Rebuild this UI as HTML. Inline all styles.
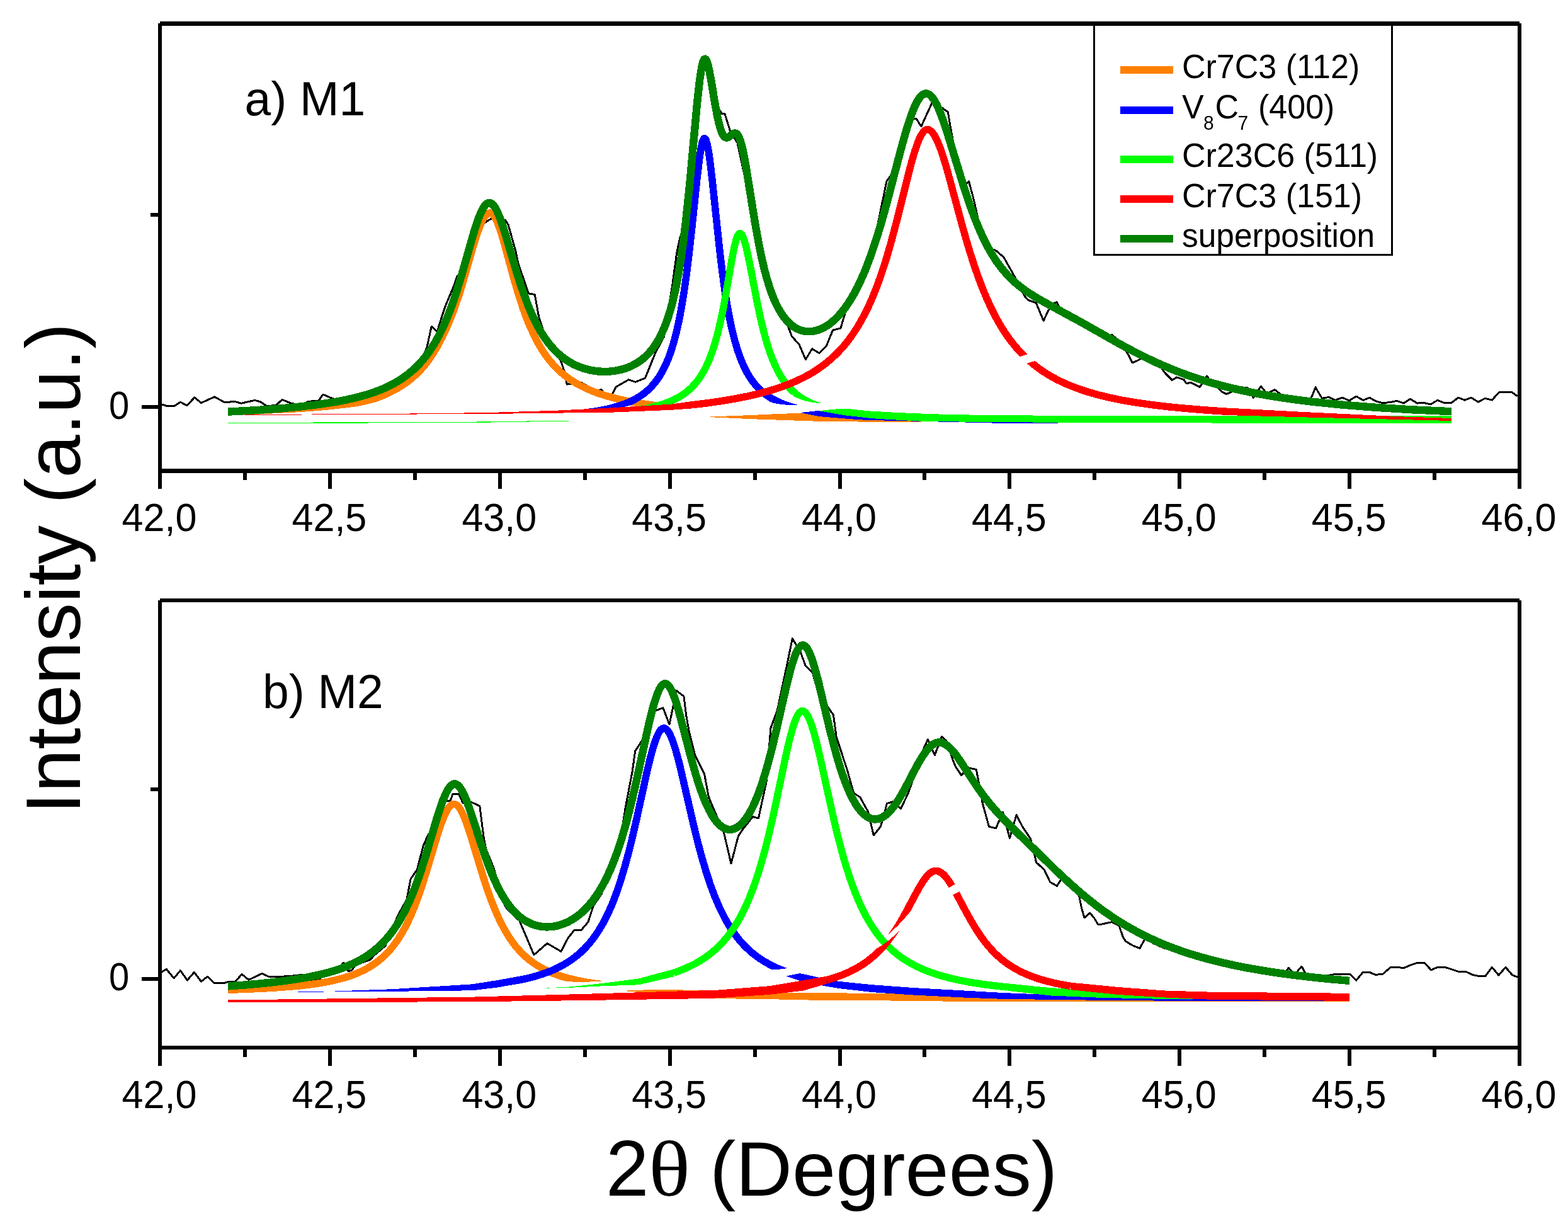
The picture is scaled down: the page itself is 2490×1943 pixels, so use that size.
<!DOCTYPE html>
<html lang="en"><head><meta charset="utf-8"><title>XRD peak deconvolution M1 / M2</title>
<style>html,body{margin:0;padding:0;background:#fff;overflow:hidden}svg{display:block}text{font-family:"Liberation Sans",sans-serif;fill:#000}.sym{font-family:"Liberation Serif",serif}</style></head><body>
<svg xmlns="http://www.w3.org/2000/svg" width="2490" height="1943" viewBox="0 0 2490 1943">
<rect width="2490" height="1943" fill="#fff"/>
<g shape-rendering="crispEdges">
<path d="M256.7,641.9l8.7,2.7l11.4,0l9.6,-6.4l10.6,5.5l11.9,-12.8l10.5,8.7l21.1,-9.6l9.5,5l7.3,4l14.7,-1.8l11,3.1l21.9,-5l9.2,2.8l9.2,6.4l14.6,-0.9l10.1,-9.2l15.6,6.4l14.6,1l12.8,-4.6l14.7,-0.9l7.3,-10.1l12.8,5.5l9.2,2.7l22,-6.4l10.9,0.3l11,0.6l11,-5.2l11,-2.5l11,-3.3l11,-7.6l11,-6.5l11,-9.6l11,-8l10.9,-9.7l11,-24.5l7.4,-33.9l9.1,8.3l7.3,-23.8l5.5,-16.5l14.7,-34.8l3.8,-12.1l11.3,-14.7l11.2,-39l11.2,-37.9l11.2,5.5l9.2,-5.8l22.9,2.2l4.5,7.3l11.9,42.1l3.7,18.3l16.5,48.6l10.1,1.8l6.4,35.7l11.6,34.1l11.6,15.4l11.6,20.1l6.4,18.3l3.3,18.9l22,-3.1l24.7,12.8l8.2,-1.1l6.4,8.8l9.2,1.8l7.3,-15l20.2,-11.6l11,3.7l15.5,-6.4l16,-39.9l13.7,-25.7l13.7,-84.2l6.4,-47.6l4.6,-22l11.2,-38.6l11.2,-120.5l11.2,-106.1l11.2,-11.6l11.2,56.8l11.2,20.3l4.8,0l8.9,28.8l6.9,10.3l4.1,6.9l10.3,47.4l10.4,34.7l10.3,65l10.4,46.6l10.4,38.1l10.3,27.4l10.4,13.8l10.3,24.2l3.5,9.6l11.7,13.1l10.3,24l10.3,-17.1l11.2,6.8l11.4,-11l10.3,-25.4l12.4,-3l11.4,-38.5l11.4,-17.8l11.4,-23.8l11.4,-29.3l11.4,-46.1l16.1,-77.9l11.4,-16l20.6,-81.3l14.9,-2.3l8,12.6l18.3,-40l24.1,17.1l3.4,20.6l18.3,100.8l11.5,-11.5l8,29.8l11.5,51.7l11.6,24.7l11.5,3.5l12.9,11l17.4,31.1l15.5,30.2l5.5,6.5l12.8,4.5l11.9,28.4l7.4,-15.5l7.3,-12l6.4,-1.8l5.5,10.1l11.1,8.8l11.1,6.6l11.2,5.6l11.1,8.7l11.1,5.9l11.1,4.1l11.1,3.3l4.6,-1.3l12.8,11.4l12.9,20.2l6.4,12.8l8.2,-3.7l11,-5.3l11,3.8l11,5.9l11,15.8l11,10.9l7.3,-4.5l11,3.6l4.5,6.4l6.5,-1.8l14.6,7.3l11,-17.4l5.5,6.4l18.3,18.4l7.3,3.6l6.4,-2.2l12.8,-9.2l14.7,1.9l9.1,15.5l11.9,-18.3l8.3,10.1l4.6,0l9.1,-4.6l9.2,7.3l10.1,2.2l9.6,5l9.6,2.8l9.6,-0.2l9.6,-3.4l7,-17.4l10.4,17.4l11,-1.8l9.6,4.8l11.7,-4.1l11,4.8l11,-6.9l10.9,6.2l10.3,-4.1l11,6.2l9.6,2.1l11,-0.7l11.7,-2.4l11,3.7l10.3,-6.8l11,6.8l11,-0.6l10.3,2.4l11,-6.6l10.3,4.2l11.7,0l10.9,-8.3l10.3,3.9l10.3,-3.9l11,6.9l11,-5.8l11,2.8l11,-12.1l10.3,-0.7l11,0.7l8.2,6.1" fill="none" stroke="#000" stroke-width="3" stroke-linejoin="round"/>
<path d="M1120,661.8l73,-2.8l47,-2.2l31,-0.9l40,0.1l63,1l89,3l0,10.1l-152,-0.9l-118,-4l-73,-3.4Z" fill="#ff8000"/>
<path d="M385.2,658.6l36.9,-4.7l52.8,-7.3l23.8,-3.7l20.7,-3.7l1.2,11.4l-21.1,1.9l-24.2,1.7l-54,2.9l-36.1,1.5Z" fill="#ff8000"/>
<path d="M520,644.9l31,-3.4l9,-1.2l11.3,-1.9l11.2,-2.4l10.3,-2.7l4.7,-1.3l9.4,-3.7l9.4,-4.2l11.9,-6.1l8.2,-4.7l8.2,-5.5l8.2,-6.3l7.2,-6.3l7.2,-7.2l6.2,-6.9l5.1,-6.5l4.1,-5.6l5.1,-7.7l4.1,-6.8l4.1,-7.2l6.4,-12.1l8.5,-18.3l5.3,-12.9l4.3,-11.1l9.6,-27.6l6,-20.1l16,-55.9l5,-15.9l4,-11.4l3,-7.4l2,-4.2l2,-3.7l2,-3.1l2,-2.5l2,-1.7l2,-1.1l2,-0.3l1,0.1l2,0.9l2,1.8l2,2.7l2,3.4l2,4.2l4,10.2l3,9.1l4,13.4l15,55.1l8,27.5l8,24.5l4,11l5,12.7l8,17.7l4,7.9l5,8.9l5,8.1l5,7.3l5,6.6l5,6l6,6.5l7,6.7l7,5.8l8,6l8,5.1l8,4.6l9,4.4l10,4.4l10,3.7l11,3.6l12,3.4l12,2.9l14,2.9l14,2.5l15,2.3l17,2.3" fill="none" stroke="#ff8000" stroke-width="11.5" stroke-linejoin="round" stroke-linecap="butt"/>
<path d="M1271,655l29.4,-3.2l49.6,0.2l24,1l56,3l66,3l79,2l105,2l0,9l-105,-0.5l-201,-4.7l-24,-1.6l-49.6,-4.2l-29.4,-6Z" fill="#0000ff"/>
<path d="M920.3,650.6l23.8,-3.3l10.8,-1.9l9.8,-2.1l8.8,-2.2l8.7,-2.6l7.8,-2.7l7.7,-3.2l4.6,10.6l-7.6,2l-8.6,1.9l-9.5,1.5l-9.4,1l-10.3,0.7l-11.2,0.5l-12.2,0l-13.2,-0.2Z" fill="#0000ff"/>
<path d="M1230.8,629l7.6,3.9l8.6,3.6l9.7,3.3l10.7,3l-11.7,0.2l-10.9,-0.6l-10.2,-1.3l-9.4,-2Z" fill="#0000ff"/>
<path d="M1000,637.9l7,-3.4l6,-3.4l6,-3.9l5,-3.7l5,-4.3l5,-4.9l5,-5.6l4,-5.2l4,-5.8l4,-6.7l4,-7.6l3,-6.4l3,-7.1l3,-8l3,-8.9l3,-9.9l4,-15.2l4,-17.7l4,-20.8l4,-24.2l4,-28.1l4,-32.2l4,-35.9l9,-86.4l4,-32.9l2,-12.9l2,-9.6l1,-3.4l1,-2.4l1,-1.4l1,-0.3l1,0.7l1,1.7l2,6.5l2,10.2l2,13.3l4,33.3l12,113.5l4,33l4,29l3,19.1l4,22.3l4,19.1l4,16.3l5,17.2l3,8.8l3,7.9l3,7.1l4,8.4l3,5.5l4,6.6l4,5.8l4,5.2l4,4.5l4,4l5,4.5l5,3.9l5,3.4l6,3.6" fill="none" stroke="#0000ff" stroke-width="11.5" stroke-linejoin="round" stroke-linecap="butt"/>
<path d="M362,671l388,-1.4l165,-2.1l0,0.8l-165,2.7l-388,1.2Z" fill="#00ff00"/>
<path d="M1300.4,652.2l21.6,-2.4l20.6,-1.3l34.4,3.7l46,2.7l40,1.6l33,1.2l48,0.9l96,0.9l665,0.2l0,12l-355,-0.1l-310,-1.1l-96,-0.7l-81,-1.1l-67,-3.7l-19,-1.7l-34.4,-3.8l-42.2,-7.3Z" fill="#00ff00"/>
<path d="M1011.1,645.5l14.7,-2.8l12.8,-2.9l2.8,11.1l-14.3,-2.1l-16,-3.3Z" fill="#00ff00"/>
<path d="M1265.7,619.3l3.8,3.1l4.7,3.4l4.7,3l4.8,2.6l10.5,4.9l11,4l-6.8,-0.5l-6.5,-0.7l-6.6,-1.2l-5.7,-1.3l-5.7,-1.7l-4.7,-1.7l-6,-2.6l-4.9,-2.5Z" fill="#00ff00"/>
<path d="M1040,645.3l14,-4.2l7,-2.5l6,-2.6l6,-2.8l6,-3.4l5,-3.1l5,-3.6l5,-4.1l4,-3.7l5,-5.3l4,-4.8l4,-5.4l3,-4.6l4,-6.8l3,-5.8l5,-11l5,-13.1l5,-15.7l4,-14.7l5,-21.4l4,-19.7l4,-21.8l9,-52.2l4,-20.5l3,-11.9l2,-5.6l2,-3.3l1,-0.8l1,-0.2l1,0.3l1,0.8l1,1.2l2,3.7l2,5.3l3,10.6l5,22.7l12,62.7l6,28.4l3,12.7l4,15.5l3,10.4l4,12.5l4,10.9l5,11.9l4,8.2l5,8.9l5,7.5l5,6.6l6,6.6l6,5.6" fill="none" stroke="#00ff00" stroke-width="11.5" stroke-linejoin="round" stroke-linecap="butt"/>
<path d="M388,658.2l312,-2l91.6,-1.7l91.4,-2.8l91.7,-4.6l91.3,-5.5l34,-4.8l0,11.6l-34,2.4l-91.3,3.7l-183.1,2.3l-403.6,2.2Z" fill="#ff0000"/>
<path d="M1950,647.6l126.5,6.7l146.5,7l82,2.7l0,4l-82,-2l-146.5,-3.5l-126.5,-3.4Z" fill="#ff0000"/>
<path d="M1100,642.6l24,-2.9l22,-3.1l21,-3.6l19,-3.7l18,-4.1l17,-4.6l15,-4.7l15,-5.4l14,-5.9l13,-6.3l12,-6.7l11,-7.2l11,-8.1l10,-8.5l9,-8.7l9,-9.9l7,-8.7l7,-9.6l7,-10.6l6,-10.2l6,-11.1l6,-12.2l6,-13.4l6,-14.7l6,-16.2l6,-17.7l5,-15.9l6,-20.5l10,-37.5l20,-80.1l5,-18.4l4,-13.3l5,-14.2l3,-6.9l2,-3.8l3,-4.5l2,-2.1l2,-1.4l1,-0.4l2,-0.3l2,0.4l3,1.8l3,3l3,4.4l2,3.5l3,6.3l3,7.3l3,8.2l5,15.5l5,17l23,85.1l6,21.2l6,20.1l7,21.9l6,17.3l6,16l7,17.1l7,15.5l7,14l7,12.7l8,12.9l8,11.5l9,11.5l9,10.1l9,9l11,9.5l12,9.1l13,8.3l13,7.2l14,6.6l16,6.4l16,5.5l18,5.2l19,4.6l21,4.3l22,3.7l24,3.4l26,3.1l29,2.8l32,2.6l34,2.3" fill="none" stroke="#ff0000" stroke-width="11.5" stroke-linejoin="round" stroke-linecap="butt"/>
<path d="M1618.5,566.5l16,-5l12,10.5l-16,5Z" fill="#fff"/>
<path d="M362,653.6l32,-1.7l29,-1.8l26,-2l24,-2.2l22,-2.5l20,-2.7l19,-3l17,-3.3l16,-3.7l14,-3.8l13,-4.3l13,-4.9l11,-5l11,-5.9l10,-6.2l10,-7.4l8,-6.8l7,-6.8l7,-7.7l7,-8.8l7,-10l6,-9.6l6,-10.8l6,-12.2l6,-13.5l5,-12.5l5,-13.6l5,-14.7l9,-29.1l19,-66.4l4,-12.8l4,-11.5l4,-9.7l4,-7.6l2,-2.8l2,-2.1l2,-1.5l2,-0.7l2,0l2,0.7l2,1.5l3,3.4l2,3.1l2,3.8l5,11.6l4,11.3l4,12.4l17,57.5l8,25.4l9,25.3l4,10.1l5,11.7l8,16.4l4,7.2l5,8.3l4,6l5,6.8l5,6.1l5,5.4l7,6.7l7,5.7l8,5.5l8,4.5l8,3.6l9,3.2l9,2.3l10,1.7l10,0.7l9,-0.1l10,-1l9,-1.7l9,-2.6l9,-3.7l8,-4.3l7,-4.7l5,-4l4,-3.7l5,-5.3l4,-4.9l4,-5.5l3,-4.6l4,-6.9l3,-5.9l6,-13.6l3,-7.9l3,-8.9l3,-9.9l3,-11.2l5,-21.6l4,-20.7l4,-24.2l4,-28.2l4,-32.6l6,-57.5l12,-130.6l4,-36.1l3,-19.7l2,-8.7l1,-3l1,-1.9l1,-1l1,-0.1l1,0.8l1,1.7l1,2.5l1,3.2l2,8.3l3,15.9l6,36.1l4,21.8l2,9.1l2,7.8l3,9l1,2.2l2,3.5l2,2.1l2,0.9l2,0l2,-0.9l6,-4.6l2,-1.2l2,-0.5l2,0.5l2,1.7l2,3.2l2,4.7l2,6.3l3,12.3l4,20.7l15,93.2l7,38.5l4,19l4,16.9l4,14.8l5,15.9l4,10.9l5,11.7l5,9.7l6,9.6l5,6.5l6,6.2l6,4.8l3,1.9l4,2.1l5,2l6,1.4l5,0.5l6,-0.2l6,-1.1l6,-1.8l6,-2.6l6,-3.4l6,-4.2l6,-5.1l6,-5.9l5,-5.6l6,-7.7l5,-7.2l5,-7.9l5,-8.7l5,-9.5l4,-8.3l5,-11.2l4,-9.6l8,-21.1l9,-26.8l7,-22.9l8,-28.3l22,-83.8l6,-22l6,-20.5l6,-18l3,-7.9l3,-7l3,-6l3,-5l3,-3.9l3,-2.7l3,-1.6l3,-0.4l2,0.4l3,1.5l3,2.7l3,3.7l2,3.1l3,5.4l3,6.3l3,7l5,13.3l6,17.9l25,81.8l6,18.6l6,17.5l7,18.9l6,14.8l7,15.7l7,13.9l7,12.4l8,12.4l8,10.7l9,10.4l9,9l10,8.5l11,8.1l13,8.4l18,10.3l54,29.3l65,36.7l22,11.7l20,10l14,6.6l13,5.7l13,5.4l13,5.1l13,4.7l14,4.7l14,4.4l15,4.3l17,4.5l17,4l18,3.9l18,3.5l19,3.3l20,3.1l21,2.9l22,2.7l47,4.9l52,4.1l58,3.6l65,3" fill="none" stroke="#008000" stroke-width="12.4" stroke-linejoin="round" stroke-linecap="butt"/>
<path d="M256.9,1542.7l7.5,-4.2l11.7,14.5l10.3,-12.4l11,15.4l11,-12.6l11,14.8l10,-8l10.6,10.3l15.8,0l6.8,-2l11,0l10.3,-12.1l11,9l21.3,-10l10.3,4.8l21.3,0l12.4,-0.7l19.8,-2.2l9.2,11.3l16.5,-3.1l9.1,-8.1l9.2,-2l9.2,0l11.9,-17.4l8.2,13.8l5.5,-1.9l5.5,-7.3l12.8,-5.5l11,-3.7l5.5,-6.4l18.3,-15.5l17.4,-42.2l3.7,-8.2l12.8,-22.9l6.4,-33l10.1,-14.6l10,-38.5l7.4,-16.5l11.8,-17.4l11.8,-37.5l11.8,0.6l3.7,-10.6l10,0l6.4,14.2l12.9,-1.8l13.7,6.4l6.4,50.4l3.7,18.3l11.9,29.3l17.4,58.6l3.6,6.4l20.2,19.3l22.9,54l21,-18.3l22,12.8l11,-21.1l10.1,-12.8l11,0l11,-12.8l8.2,-25.7l12.8,-18.3l9.6,-30.4l9.6,-23.3l9.7,-24.7l9.6,-60.8l10.7,-56l4.5,-32.1l10.3,-16l21.8,-48.1l12.1,-4.6l10.1,26.4l6.4,-31l4.6,-22.8l11.9,9.1l4.1,32.1l4.1,22.9l9.7,38.9l14.8,29.7l6.9,36.7l24,56.1l11.5,49.2l11.4,-43.5l5.8,-9.2l17.1,-21.7l9.2,2.3l12.6,-58.4l6.8,-84.7l10.3,-27.5l16.1,-75.5l8,-39l12.6,20.6l8,21.8l11.4,11.4l9.2,33.2l16,22.9l8,11.5l4.6,34.3l17.2,52.7l10.3,36.6l10.3,6.9l12.6,22.9l8.8,37.4l11,-13.7l6.4,-22l3.7,-14.7l11,-3.3l11,11.6l11.9,-24.8l25.6,-73.2l5.5,-11.9l11,24.7l11,-29.3l7.3,6.4l11,32.1l3.7,9.1l9.1,13.8l11,-11.9l12.8,2.7l5.5,28.4l4.6,25.6l10.1,36.7l11,2.7l11,-25.6l10.9,41.2l10.7,-37l9.5,18.7l12.8,19.2l3.7,13.7l5.5,23.8l12.8,11.9l9.1,19.3l11,6.4l9.2,-15l9.1,9l9.2,12.4l5.5,-1.8l6.1,30.5l4.4,15.4l8.8,-7.7l6.6,7.7l6.6,11l6.5,-1.1l15.4,-3.3l11,5.5l6.6,18.7l4.4,6.6l11,6.6l11,4.4l9.9,-17.6l12.1,9.9l17.6,7.7l21.9,5.5l8.8,4.4l18.7,5.5l6.6,-3.8l6.6,6l11.1,0.7l11.1,3.1l11.1,2.6l11.1,3.5l11.1,2.1l11.2,1.7l11.1,1.1l11.1,1.2l11.1,3.3l13.2,1.5l15.4,1.1l5.5,-8.7l9.8,10.9l11,-13.1l7.7,14.2l20.9,3.3l24.4,-5.1l23.6,0l10.1,9.9l10.3,-12.6l11.6,0l9,3.7l11.6,-1.4l11.7,-10.3l11,0l11,0.7l11,-4.8l10.3,-3.2l11,0l10.3,11.4l10.3,-4.4l11.7,0l10.3,3.1l10.9,3.8l11.7,0l11,5.1l8.2,1.8l12.4,0l10.3,-13.8l10.6,12.7l11,-12.7l10.7,12.4l8.2,3.3" fill="none" stroke="#000" stroke-width="3" stroke-linejoin="round"/>
<path d="M996,1572.5l34,-1.3l40,-0.2l151.6,5.2l91.6,0l91.5,0.9l125.3,2.9l170,3l443,2l0,5.5l-443,-0.1l-170,-0.5l-125.3,-1.5l-91.5,-0.3l-91.6,-1.9l-91.6,-1.2l-60,-5l-40,-4l-34,-2.5Z" fill="#ff8000"/>
<path d="M901.5,1546.8l12.8,3.1l13.7,2.9l14.8,2.4l15.9,2.1l-17.3,1.1l-15.5,0.4l-14.7,-0.2l-12.7,-0.7Z" fill="#ff8000"/>
<path d="M362,1571.4l53,-2.1l23,-1.4l20,-1.5l18,-1.6l17,-2l15,-2.2l14,-2.5l13,-2.9l12,-3.2l11,-3.5l10,-3.9l10,-4.6l9,-5l8,-5.2l8,-6l7,-6.2l6,-6l6,-6.9l5,-6.4l6,-8.6l5,-8.1l5,-8.9l5,-9.9l5,-10.9l5,-12l5,-13.1l5,-14.3l9,-28l18,-60l4,-12.3l4,-11l5,-11.5l4,-6.9l3,-3.6l2,-1.6l2,-1l2,-0.3l2,0.4l2,1.1l2,1.7l2,2.3l2,2.9l2,3.5l4,8.6l4,10.3l5,14.8l21,69.1l6,18.4l6,16.9l7,17.9l7,15.6l7,13.7l8,13.5l4,5.9l5,6.8l4,4.9l5,5.6l5,5.1l5,4.6l5,4.1l5,3.8l5,3.4l6,3.7l6,3.3l7,3.4l7,3l7,2.7l8,2.7l8,2.3" fill="none" stroke="#ff8000" stroke-width="11.5" stroke-linejoin="round" stroke-linecap="butt"/>
<path d="M472.7,1573.8l41.3,-0.1l0,0.9l-41.3,0Z" fill="#0000ff"/>
<path d="M532,1573.5l92.7,-3.4l125.3,-7.8l40,-6.3l41.6,-7.5l0,11.8l-41.6,7.2l-40,4.8l-125.3,1.5l-92.7,0.7Z" fill="#0000ff"/>
<path d="M1248.1,1549.6l22,-4.6l29.9,6.5l31.5,6.3l54.9,5.5l63.6,4.7l143.3,8l73.2,3l73.3,2.5l73.2,1.5l330,3l0,3.5l-223,-0.5l-107,-0.6l-73.2,-0.7l-146.5,-1.8l-63.3,-2.4l-80,-4l-63.6,-4.3l-54.9,-6.2l-31.5,-5.5l-29.9,-6.5l-22,-7.4Z" fill="#0000ff"/>
<path d="M1230.5,1528.8l9.7,4.4l10.2,3.9l-12.5,1.5l-12.4,0.6Z" fill="#0000ff"/>
<path d="M831,1554.5l12,-2.8l11,-3.1l10,-3.3l10,-3.7l9,-4l8,-4l8,-4.5l8,-5.2l7,-5.2l7,-5.8l7,-6.7l6,-6.5l6,-7.2l6,-8.2l6,-9.1l5,-8.5l5,-9.4l4,-8.3l5,-11.2l4,-9.9l5,-13.4l4,-11.7l8,-26.2l6,-22.2l6,-24.1l7,-30.4l17,-77.3l5,-20.6l5,-18l4,-11.7l2,-4.8l2,-4l2,-3.3l2,-2.3l2,-1.5l2,-0.5l2,0.3l2,1.2l2,2.1l3,4.5l4,8.7l5,14.5l4,14.1l4,15.6l22,95.2l6,24.4l6,22.5l7,23.9l7,21.3l7,18.8l8,18.6l8,16l4,7.1l5,8.2l4,6l5,6.9l5,6.3l5,5.7l5,5.2l6,5.7l5,4.3l6,4.7l6,4.3l7,4.4l7,4l7,3.6" fill="none" stroke="#0000ff" stroke-width="11.5" stroke-linejoin="round" stroke-linecap="butt"/>
<path d="M868,1567.8l5,0l0,1l-5,0Z" fill="#00ff00"/>
<path d="M883,1567l18,-0.2l22,-2.2l36.8,-4l54.9,-7.3l55,-14.9l0,12.1l-55,12.8l-54.9,1.9l-58.8,2.8l-18,0Z" fill="#00ff00"/>
<path d="M1600,1561.2l66.5,6.8l73.3,4l73.2,3l117,3l0,8.5l-44,-0.3l-73,-0.9l-73.2,-1.8l-73.3,-3.1l-66.5,-7.6Z" fill="#00ff00"/>
<path d="M1069.7,1544.4l10,-3.6l9,-3.7l9,-4.1l8,-4.2l8,-4.8l8,-5.3l7,-5.3l7,-5.9l7,-6.6l6,-6.4l6,-7l5,-6.5l6,-8.7l5,-7.9l5,-8.8l5,-9.6l5,-10.6l4,-9.3l8,-20.7l8,-24.2l8,-27.8l6,-23.5l7,-29.9l6,-27.7l13,-62.2l5,-22.7l4,-16.7l4,-14.6l4,-12l2,-4.9l2,-4l2,-3.1l2,-2.2l2,-1.2l2,-0.3l2,0.7l2,1.5l2,2.4l3,5.2l4,9.5l5,15.7l4,15l5,20.9l19,86.6l9,38.3l9,34.2l5,17l5,15.7l5,14.4l5,13.1l5,12l6,13l5,9.7l6,10.6l6,9.5l6,8.5l8,10.1l8,8.7l8,7.6l9,7.4l10,7.2l10,6l11,5.8l11,4.9l13,4.9l13,4.2l14,3.8l16,3.6l17,3.2l18,2.8l20,2.6l21.3,2.3" fill="none" stroke="#00ff00" stroke-width="11.5" stroke-linejoin="round" stroke-linecap="butt"/>
<path d="M362,1587.5l388,-4.9l173.2,-4.6l216.8,-6.4l81.6,-6.4l54.9,-9.2l36.7,-6.4l0,11.9l-36.7,11l-54.9,6.4l-81.6,5.5l-33.7,0.9l-183.1,2.8l-173.2,2.2l-388,0.9Z" fill="#ff0000"/>
<path d="M1700,1559.6l76.4,7.4l73.3,5.5l70.3,2.1l223,2.2l0,12.1l-223,-2.2l-70.3,-3.2l-73.3,-4.5l-76.4,-7.8Z" fill="#ff0000"/>
<path d="M1391.9,1505.7l9,-5.4l9.2,-6.6l9.4,-7.9l8.8,-8.4l-6.6,10l-7.2,9.7l-7.2,8.8l-7.2,7.8Z" fill="#ff0000"/>
<path d="M1410.3,1483.6l5.9,-8.6l6.9,-10.9l5.9,-10.2l6.9,-12.7l10.2,5.4l-9.8,11.4l-9.7,10.5l-8.2,8l-8.1,7.1Z" fill="#ff0000"/>
<path d="M1313,1555.6l13,-3.9l12,-4.3l11,-4.7l11,-5.6l10,-6l9,-6.4l9,-7.4l8,-7.6" fill="none" stroke="#ff0000" stroke-width="11.5" stroke-linejoin="round" stroke-linecap="butt"/>
<path d="M1441,1443.9l13,-24.6l6,-10.8l6,-9.7l5,-6.8l3,-3.3l3,-2.7l3,-2l2,-0.9l3,-0.7l2,-0.1l2,0.3l3,1.1l4,2.5l4,3.7l4,4.8l5,7.2l8,13.5l17,31.9l8,14.4l8,13.3l7,10.6l7,9.5l8,9.7l7,7.5l8,7.5l5,4.2l6,4.6l11,7.3l12,6.6l13,5.8l14,5.1l16,4.6l17,3.9l19,3.5" fill="none" stroke="#ff0000" stroke-width="11.5" stroke-linejoin="round" stroke-linecap="butt"/>
<path d="M1504.5,1410.5l12.5,-7l8,11l-13.5,6.5Z" fill="#fff"/>
<path d="M362,1565.4l26,-1.8l23,-2l21,-2.2l20,-2.4l18,-2.6l17,-2.8l15,-3.1l14,-3.3l13,-3.6l13,-4.3l11,-4.3l11,-5l10,-5.3l9,-5.5l9,-6.5l8,-6.6l7,-6.6l6,-6.4l6,-7.1l6,-8l6,-8.9l5,-8.3l6,-11l5,-10.2l5,-11.1l5,-12.2l5,-13.2l5,-14.2l9,-28.1l19,-63.8l4,-12.4l4,-11.2l5,-11.9l4,-7.3l3,-3.9l2,-1.9l2,-1.3l2,-0.6l2,0l2,0.7l2,1.3l2,1.9l2,2.6l2,3l4,7.7l4,9.4l4,10.8l5,14.7l13,40.4l6,17.9l7,19.4l6,15l8,17.6l4,7.7l4,7.1l4,6.5l4,5.9l4,5.3l5,5.9l5,5.2l6,5.3l5,3.7l6,3.7l6,2.9l6,2.3l6,1.6l7,1.1l6,0.3l7,-0.2l7,-1l6,-1.4l7,-2.4l6,-2.5l7,-3.8l6,-3.8l5,-3.7l4,-3.3l5,-4.6l4,-4.1l8,-9.3l8,-11l8,-13l7,-13.2l7,-15.3l6,-14.9l6,-16.6l6,-18.7l6,-20.7l6,-22.8l10,-42.4l20,-91.8l4,-16.7l4,-15l5,-15.6l4,-9.4l2,-3.5l2,-2.7l2,-1.8l2,-0.9l2,-0.1l2,0.8l2,1.7l2,2.4l2,3.3l2,3.9l4,9.9l4,12.1l4,13.7l18,68.7l9,31.6l5,15.6l5,13.9l5,12.3l5,10.6l5,9l3,4.6l3,4l5,5.6l3,2.6l3,2.1l2,1.1l3,1.2l3,0.8l3,0.2l3,-0.2l3,-0.7l5,-2.3l5,-3.6l4,-3.9l5,-6.1l4,-5.9l5,-8.7l4,-8.1l5,-11.6l4,-10.4l4,-11.5l5,-15.8l4,-13.9l5,-18.7l8,-32.9l17,-74.5l5,-20l4,-14.2l3,-9.2l2,-5.3l2,-4.6l2,-3.8l2,-3l2,-2.2l2,-1.2l2,-0.4l2,0.5l2,1.4l2,2.2l2,3.1l2,3.9l2,4.7l2,5.3l3,9.1l4,13.9l4,15.5l17,71.3l8,31.4l5,17.9l4,13.2l4,12.1l4,11.1l4,10.1l4,9l4,8.1l5,8.7l4,6l5,6.1l4,4l5,3.7l4,2.1l4,1.4l4,0.5l5,-0.4l4,-1.2l4,-2l4,-2.6l5,-4.3l4,-4.3l5,-6.2l4,-5.6l5,-7.9l9,-15.8l15,-28.7l6,-11l6,-10l6,-8.5l4,-4.7l3,-3l3,-2.3l3,-1.8l3,-1.2l3,-0.6l3,0l4,1l4,1.9l5,3.6l4,3.9l5,5.7l5,6.6l5,7.1l19,29.3l8,11.9l7,9.8l6,8l9,11.2l9,10.3l10,10.7l13,13.2l72,70.2l19,17.7l18,15.9l19,15.7l18,13.6l19,13.1l19,11.7l16,8.9l16,8.1l17,7.8l17,7l18,6.6l19,6.3l20,5.8l20,5.2l21,4.9l23,4.7l24,4.2l25,4l27,3.6l28,3.4l30,3.1l32.1,2.8" fill="none" stroke="#008000" stroke-width="12.4" stroke-linejoin="round" stroke-linecap="butt"/>
</g>
<g shape-rendering="crispEdges" fill="#000">
<rect x="254" y="34" width="2159" height="7" fill="#000"/>
<rect x="251" y="744" width="2165" height="7" fill="#000"/>
<rect x="251" y="37" width="6" height="739" fill="#000"/>
<rect x="2410" y="37" width="6" height="739" fill="#000"/>
<rect x="386" y="751" width="6" height="11" fill="#000"/>
<rect x="521" y="751" width="6" height="25" fill="#000"/>
<rect x="656" y="751" width="6" height="11" fill="#000"/>
<rect x="791" y="751" width="6" height="25" fill="#000"/>
<rect x="926" y="751" width="6" height="11" fill="#000"/>
<rect x="1061" y="751" width="6" height="25" fill="#000"/>
<rect x="1196" y="751" width="6" height="11" fill="#000"/>
<rect x="1331" y="751" width="6" height="25" fill="#000"/>
<rect x="1465" y="751" width="6" height="11" fill="#000"/>
<rect x="1600" y="751" width="6" height="25" fill="#000"/>
<rect x="1735" y="751" width="6" height="11" fill="#000"/>
<rect x="1870" y="751" width="6" height="25" fill="#000"/>
<rect x="2005" y="751" width="6" height="11" fill="#000"/>
<rect x="2140" y="751" width="6" height="25" fill="#000"/>
<rect x="2275" y="751" width="6" height="11" fill="#000"/>
<rect x="225" y="643" width="26" height="6" fill="#000"/>
<rect x="239" y="338" width="12" height="6" fill="#000"/>
<rect x="254" y="950" width="2159" height="6" fill="#000"/>
<rect x="251" y="1660" width="2165" height="6" fill="#000"/>
<rect x="251" y="953" width="6" height="739" fill="#000"/>
<rect x="2410" y="953" width="6" height="739" fill="#000"/>
<rect x="386" y="1666" width="6" height="12" fill="#000"/>
<rect x="521" y="1666" width="6" height="26" fill="#000"/>
<rect x="656" y="1666" width="6" height="12" fill="#000"/>
<rect x="791" y="1666" width="6" height="26" fill="#000"/>
<rect x="926" y="1666" width="6" height="12" fill="#000"/>
<rect x="1061" y="1666" width="6" height="26" fill="#000"/>
<rect x="1196" y="1666" width="6" height="12" fill="#000"/>
<rect x="1331" y="1666" width="6" height="26" fill="#000"/>
<rect x="1465" y="1666" width="6" height="12" fill="#000"/>
<rect x="1600" y="1666" width="6" height="26" fill="#000"/>
<rect x="1735" y="1666" width="6" height="12" fill="#000"/>
<rect x="1870" y="1666" width="6" height="26" fill="#000"/>
<rect x="2005" y="1666" width="6" height="12" fill="#000"/>
<rect x="2140" y="1666" width="6" height="26" fill="#000"/>
<rect x="2275" y="1666" width="6" height="12" fill="#000"/>
<rect x="225" y="1551" width="26" height="6" fill="#000"/>
<rect x="239" y="1250" width="12" height="6" fill="#000"/>
</g>
<g shape-rendering="crispEdges">
<rect x="1737.5" y="39" width="473" height="365" fill="#fff" stroke="#000" stroke-width="3"/>
<rect x="1730" y="34" width="490" height="7" fill="#000"/>
<rect x="1779" y="105.3" width="84" height="12" fill="#ff8000"/>
<rect x="1779" y="168.8" width="84" height="12" fill="#0000ff"/>
<rect x="1779" y="246.7" width="84" height="12" fill="#00ff00"/>
<rect x="1779" y="309.7" width="84" height="12" fill="#ff0000"/>
<rect x="1779" y="373.2" width="84" height="12" fill="#008000"/>
</g>
<text transform="translate(253,843) scale(1.0175,1.036)" font-size="60" text-anchor="middle">42,0</text>
<text transform="translate(522.9,843) scale(1.0175,1.036)" font-size="60" text-anchor="middle">42,5</text>
<text transform="translate(792.8,843) scale(1.0175,1.036)" font-size="60" text-anchor="middle">43,0</text>
<text transform="translate(1062.6,843) scale(1.0175,1.036)" font-size="60" text-anchor="middle">43,5</text>
<text transform="translate(1332.5,843) scale(1.0175,1.036)" font-size="60" text-anchor="middle">44,0</text>
<text transform="translate(1602.4,843) scale(1.0175,1.036)" font-size="60" text-anchor="middle">44,5</text>
<text transform="translate(1872.2,843) scale(1.0175,1.036)" font-size="60" text-anchor="middle">45,0</text>
<text transform="translate(2142.1,843) scale(1.0175,1.036)" font-size="60" text-anchor="middle">45,5</text>
<text transform="translate(2412,843) scale(1.0175,1.036)" font-size="60" text-anchor="middle">46,0</text>
<text transform="translate(253,1758.8) scale(1.0175,1.036)" font-size="60" text-anchor="middle">42,0</text>
<text transform="translate(522.9,1758.8) scale(1.0175,1.036)" font-size="60" text-anchor="middle">42,5</text>
<text transform="translate(792.8,1758.8) scale(1.0175,1.036)" font-size="60" text-anchor="middle">43,0</text>
<text transform="translate(1062.6,1758.8) scale(1.0175,1.036)" font-size="60" text-anchor="middle">43,5</text>
<text transform="translate(1332.5,1758.8) scale(1.0175,1.036)" font-size="60" text-anchor="middle">44,0</text>
<text transform="translate(1602.4,1758.8) scale(1.0175,1.036)" font-size="60" text-anchor="middle">44,5</text>
<text transform="translate(1872.2,1758.8) scale(1.0175,1.036)" font-size="60" text-anchor="middle">45,0</text>
<text transform="translate(2142.1,1758.8) scale(1.0175,1.036)" font-size="60" text-anchor="middle">45,5</text>
<text transform="translate(2412,1758.8) scale(1.0175,1.036)" font-size="60" text-anchor="middle">46,0</text>
<text transform="translate(189,665) scale(0.966,1.04)" font-size="60" text-anchor="middle">0</text>
<text transform="translate(189,1572) scale(0.966,1.04)" font-size="60" text-anchor="middle">0</text>
<text transform="translate(388.5,183) scale(1,1.02)" font-size="75">a) M1</text>
<text transform="translate(417,1124) scale(1,1.02)" font-size="75">b) M2</text>
<text transform="translate(1877,124) scale(1,1.02)" font-size="52">Cr7C3 (112)</text>
<text transform="translate(1877,188.3) scale(1,1.02)" font-size="52">V</text>
<text transform="translate(1911,205.7) scale(1,1.05)" font-size="30">8</text>
<text transform="translate(1929.5,188.3) scale(1,1.02)" font-size="52">C</text>
<text transform="translate(1965.5,205.7) scale(1,1.05)" font-size="30">7</text>
<text transform="translate(1998,188.3) scale(1,1.02)" font-size="52">(400)</text>
<text transform="translate(1877,265) scale(1,1.02)" font-size="52">Cr23C6 (511)</text>
<text transform="translate(1877,328.6) scale(1,1.02)" font-size="52">Cr7C3 (151)</text>
<text transform="translate(1877,391.6) scale(0.99,1.02)" font-size="52">superposition</text>
<text transform="translate(962,1898) scale(1,1.02)" font-size="123">2</text>
<text transform="translate(1030,1898) scale(1.12,1.02)" font-size="123" class="sym">θ</text>
<text transform="translate(1127,1898) scale(1.01,1)" font-size="123">(Degrees)</text>
<text transform="translate(127.3,1292) rotate(-90)" font-size="123">Intensity (a.u.)</text>
</svg></body></html>
